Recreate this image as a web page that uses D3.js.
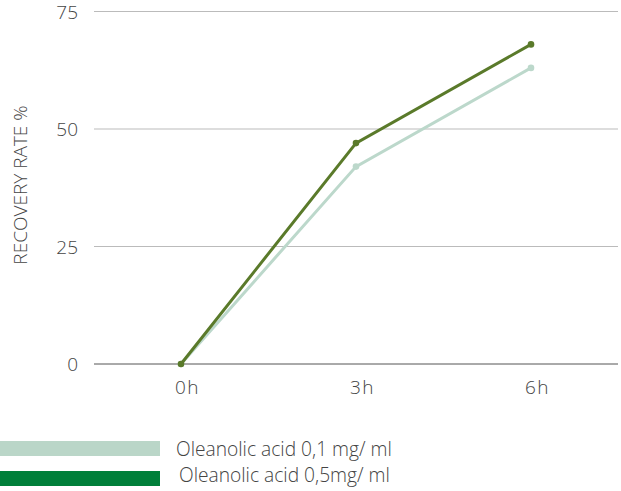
<!DOCTYPE html>
<html><head><meta charset="utf-8">
<script src="https://cdn.jsdelivr.net/npm/d3@7/dist/d3.min.js"></script>
<style>
body{margin:0;background:#fff;}
text{font-family:"Open Sans",sans-serif;font-weight:300;fill:#444;}
</style></head>
<body><svg id="c" width="621" height="491"></svg>
<script>
const categories = ["0h","3h","6h"];
const yTicks = [0,25,50,75];
const seriesNames = ["Oleanolic acid 0,1 mg/ ml","Oleanolic acid 0,5mg/ ml"];
const series01 = [0,42,63];
const series05 = [0,47,68];
const lineColors = ["#bcd8cb","#5a7a2a"];
const legendColors = ["#bad6c8","#007f3a"];

const svg = d3.select("#c");
const x = d3.scalePoint().domain(categories).range([181,531]);
const y = d3.scaleLinear().domain([0,75]).range([364,11.5]);

// gridlines
svg.append("g").selectAll("line").data(yTicks).join("line")
  .attr("x1",94).attr("x2",618)
  .attr("y1",d=>y(d)).attr("y2",d=>y(d))
  .attr("stroke",d=>d===0?"#555":"#bbb").attr("stroke-width",1);

// y axis labels
const yAxis = d3.axisLeft(y).tickValues(yTicks).tickSize(0).tickPadding(0).tickFormat(d3.format("d"));
const ga = svg.append("g").attr("transform","translate(78,0)").call(yAxis);
ga.select(".domain").remove();
ga.selectAll("text").attr("font-size",19).attr("fill","#444").attr("font-family","Open Sans").attr("font-weight",300).attr("dy","0.35em");

// x axis labels
const xAxis = d3.axisBottom(x).tickSize(0).tickPadding(0);
const gx = svg.append("g").attr("transform","translate(6,0)").call(xAxis);
gx.select(".domain").remove();
gx.selectAll("text").attr("font-size",19).attr("fill","#444").attr("font-family","Open Sans").attr("font-weight",300)
  .attr("y",394).attr("dy",0).style("letter-spacing","1.5px");

// y title
svg.append("text").attr("transform","translate(26.5,185) rotate(-90)")
  .attr("text-anchor","middle").attr("font-size",19).text("RECOVERY RATE %");

// lines
const data = [series01, series05];
const line = d3.line().x((d,i)=>x(categories[i])).y(d=>y(d));
data.forEach((s,k)=>{
  svg.append("path").datum(s).attr("d",line).attr("fill","none")
    .attr("stroke",lineColors[k]).attr("stroke-width",3);
  svg.append("g").selectAll("circle").data(s).join("circle")
    .attr("cx",(d,i)=>x(categories[i])).attr("cy",d=>y(d)).attr("r",3.3)
    .attr("fill",lineColors[k]);
});

// legend
const legY = [441,471];
const legTextX = [176,179];
const legBase = [456,481.5];
seriesNames.forEach((n,k)=>{
  svg.append("rect").attr("x",0).attr("y",legY[k]).attr("width",160).attr("height",15).attr("fill",legendColors[k]);
  svg.append("text").attr("x",legTextX[k]).attr("y",legBase[k]).attr("font-size",19.2).text(n);
});
</script></body></html>
